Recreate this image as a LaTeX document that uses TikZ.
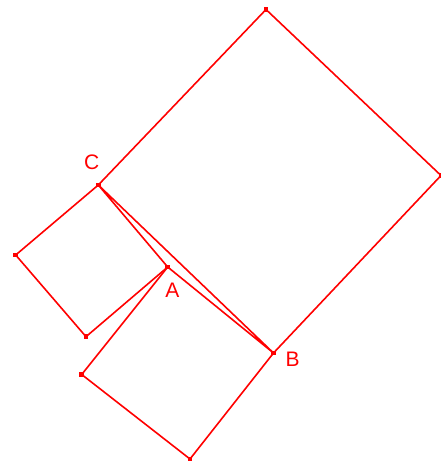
\documentclass[tikz,border=0pt]{standalone}
\usepackage{fontspec}
\setmainfont{Liberation Sans}
\begin{document}
\begin{tikzpicture}[x=1pt,y=-1pt,
  edge/.style={draw=red,line width=1.6pt,line join=miter},
  pt/.style={fill=red,inner sep=0pt,minimum size=4.5pt,draw=none},
  lbl/.style={text=red,font=\fontsize{21}{21}\selectfont,inner sep=0pt}]
\useasboundingbox (0,0) rectangle (441,466);
\coordinate (C) at (98.3,185);
\coordinate (A) at (167.7,267);
\coordinate (B) at (273.5,353);
\coordinate (T) at (266,9.5);
\coordinate (R) at (441,175.5);
\coordinate (L1) at (15.7,255);
\coordinate (L2) at (86,336.7);
\coordinate (D1) at (81.7,374.5);
\coordinate (D2) at (190,459);
\draw[edge] (C) -- (T) -- (R) -- (B);
\draw[edge] (C) -- (L1) -- (L2) -- (A);
\draw[edge] (A) -- (D1) -- (D2) -- (B);
\draw[edge] (C) -- (A) -- (B) -- cycle;
\foreach \p in {C,A,B,T,R,L1,L2,D1,D2} \node[pt] (n\p) at (\p) {};
\node[lbl] (lC) at (91.7,162.3) {C};
\node[lbl] (lA) at (172.5,290) {A};
\node[lbl] (lB) at (292.7,359.3) {B};
\end{tikzpicture}
\end{document}
